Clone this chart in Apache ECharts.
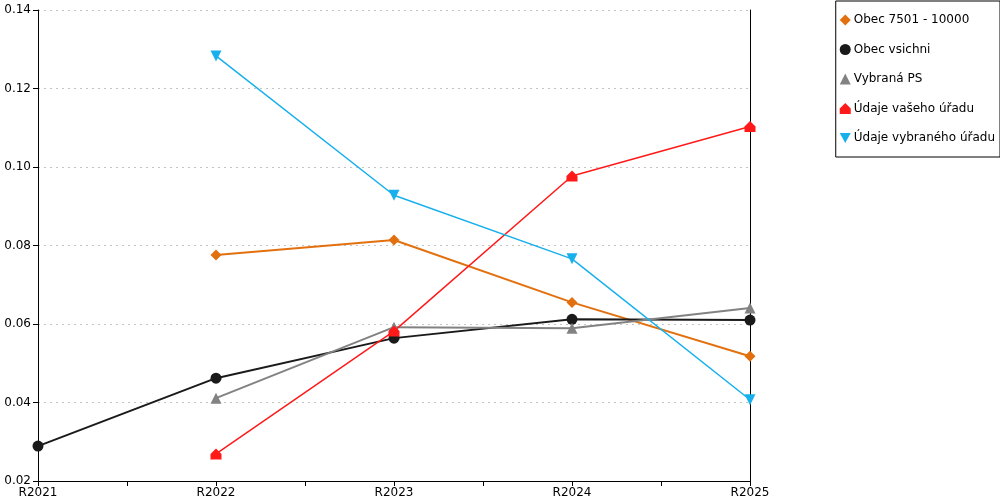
<!DOCTYPE html>
<html>
<head>
<meta charset="utf-8">
<script src="https://cdn.jsdelivr.net/npm/echarts@6/dist/echarts.min.js"></script>
<style>
    html, body { margin: 0; padding: 0; background: #fff; }
    #main { width: 1000px; height: 500px; }
</style>
</head>
<body>
<div id="main"></div>
<script>
var categories = ['R2021', 'R2022', 'R2023', 'R2024', 'R2025'];
var yTicks = [0.02, 0.04, 0.06, 0.08, 0.10, 0.12, 0.14];

var obec7501 = [null, 0.0776, 0.0814, 0.0655, 0.0518];
var obecVsichni = [0.0289, 0.0462, 0.0564, 0.0612, 0.0610];
var vybranaPS = [null, 0.0411, 0.0592, 0.0589, 0.0641];
var vasUrad = [null, 0.0269, 0.0582, 0.0977, 0.1103];
var vybranyUrad = [null, 0.1283, 0.0928, 0.0766, 0.0407];

var houseIcon = 'path://M0,10 L0,5 L5,0 L10,5 L10,10 Z';
var downIcon = 'path://M0,0 L10,0 L5,9 Z';

function toPoints(vals) {
    var pts = [];
    for (var i = 0; i < vals.length; i++) {
        if (vals[i] != null) pts.push([i, vals[i]]);
    }
    return pts;
}

function makeSeries(name, vals, color, width, symbol, size) {
    return {
        name: name,
        type: 'line',
        data: toPoints(vals),
        symbol: symbol,
        symbolSize: size,
        showAllSymbol: true,
        color: color,
        lineStyle: {color: color, width: width},
        itemStyle: {color: color},
        emphasis: {disabled: true}
    };
}

var font = 'DejaVu Sans';
var myChart = echarts.init(document.getElementById('main'), null, {renderer: 'canvas'});

var option = {
    animation: false,
    textStyle: {fontFamily: font},
    grid: {left: 38, right: 250, top: 10, bottom: 19, containLabel: false},
    legend: {
        orient: 'vertical',
        right: 0,
        top: 1,
        padding: [13, 5, 13, 4],
        borderColor: '#000',
        borderWidth: 1,
        itemWidth: 11,
        itemHeight: 11,
        itemGap: 17.5,
        textStyle: {fontFamily: font, fontSize: 12, color: '#000', padding: [0, 0, 0, -2]},
        data: [
            {name: 'Obec 7501 - 10000', icon: 'diamond'},
            {name: 'Obec vsichni', icon: 'circle'},
            {name: 'Vybraná PS', icon: 'triangle'},
            {name: 'Údaje vašeho úřadu', icon: houseIcon},
            {name: 'Údaje vybraného úřadu', icon: downIcon}
        ]
    },
    xAxis: {
        type: 'value',
        min: 0,
        max: 4,
        interval: 0.5,
        axisLine: {show: true, onZero: false, lineStyle: {color: '#000', width: 1}},
        axisTick: {show: true, length: 5, inside: false, lineStyle: {color: '#000'}},
        splitLine: {show: false},
        axisLabel: {
            color: '#000',
            fontSize: 12,
            fontFamily: font,
            margin: 6,
            showMinLabel: true,
            showMaxLabel: true,
            formatter: function (v) {
                return Number.isInteger(v) ? categories[v] : '';
            }
        }
    },
    yAxis: [
        {
            type: 'value',
            min: yTicks[0],
            max: yTicks[yTicks.length - 1],
            interval: 0.02,
            axisLine: {show: true, lineStyle: {color: '#000'}},
            axisTick: {show: true, length: 5, inside: false, lineStyle: {color: '#000'}},
            splitLine: {show: true, lineStyle: {color: '#c4c4c4', type: [2, 4], width: 1}},
            axisLabel: {
                color: '#000',
                fontSize: 12,
                fontFamily: font,
                margin: 7,
                formatter: function (v) { return v.toFixed(2); }
            }
        },
        {
            type: 'value',
            position: 'right',
            min: yTicks[0],
            max: yTicks[yTicks.length - 1],
            interval: 0.02,
            axisLine: {show: true, lineStyle: {color: '#000'}},
            axisTick: {show: false},
            axisLabel: {show: false},
            splitLine: {show: false}
        }
    ],
    series: [
        makeSeries('Obec 7501 - 10000', obec7501, '#e2700f', 2, 'diamond', 11),
        makeSeries('Obec vsichni', obecVsichni, '#1a1a1a', 2, 'circle', 11),
        makeSeries('Vybraná PS', vybranaPS, '#828282', 2, 'triangle', 11),
        makeSeries('Údaje vašeho úřadu', vasUrad, '#ff1a1a', 1.5, houseIcon, 11),
        makeSeries('Údaje vybraného úřadu', vybranyUrad, '#18b0ec', 1.5, downIcon, 11)
    ]
};

myChart.setOption(option);
</script>
</body>
</html>
